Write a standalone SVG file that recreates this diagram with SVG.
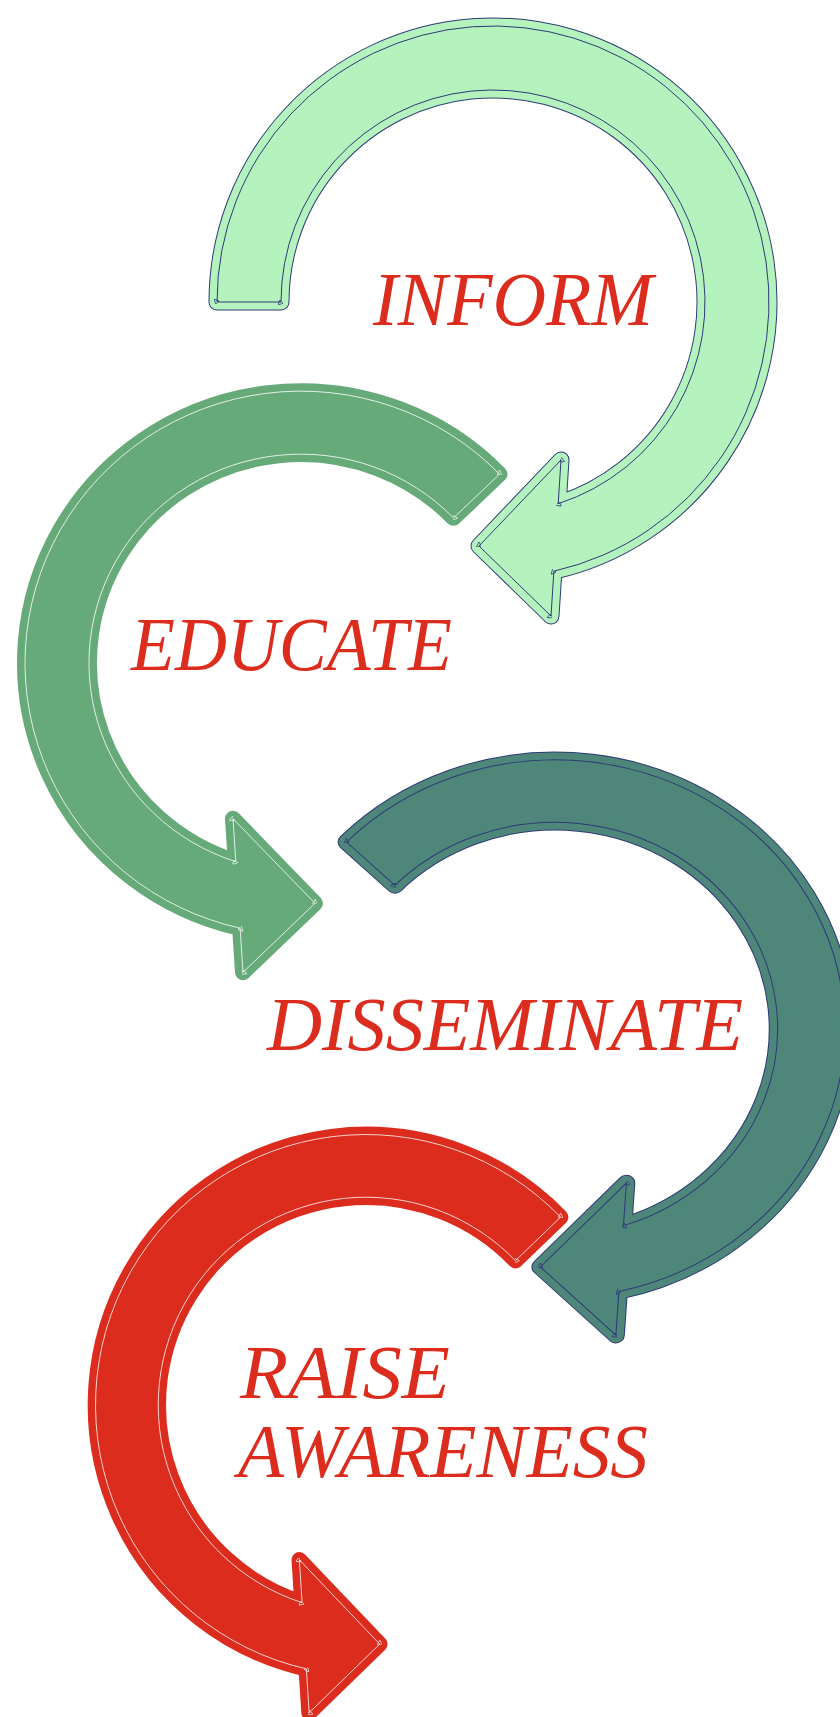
<svg xmlns="http://www.w3.org/2000/svg" xmlns:xlink="http://www.w3.org/1999/xlink" width="840" height="1717" viewBox="0 0 840 1717">
<style>
.edge-navy{fill:none;stroke:#2E3B78;stroke-width:17;stroke-linejoin:round}
.body-inform{fill:#B4F2BE;stroke:#B4F2BE;stroke-width:15;stroke-linejoin:round}
.body-edu{fill:#66AA7A;stroke:#66AA7A;stroke-width:16;stroke-linejoin:round}
.body-diss{fill:#4E877A;stroke:#4E877A;stroke-width:15;stroke-linejoin:round}
.body-raise{fill:#DC2C1E;stroke:#DC2C1E;stroke-width:16;stroke-linejoin:round}
.line-navy{fill:none;stroke:#2E3B78;stroke-width:1;marker-start:url(#mkNavy);marker-mid:url(#mkNavy)}
.line-white{fill:none;stroke:#FFFFFF;stroke-width:1;stroke-opacity:0.8;marker-start:url(#mkWhite);marker-mid:url(#mkWhite)}
.lbl{font-family:"Liberation Serif","DejaVu Serif",serif;font-style:italic;font-size:76px;fill:#DC2C1E}
</style>
<defs>
<marker id="mkNavy" viewBox="0 0 6 6" refX="1" refY="3" markerWidth="5" markerHeight="5" orient="auto" markerUnits="userSpaceOnUse">
<path d="M0,0 L6,3 L0,6 Z" fill="none" stroke="#2E3B78" stroke-width="0.9"/>
</marker>
<marker id="mkWhite" viewBox="0 0 6 6" refX="1" refY="3" markerWidth="5" markerHeight="5" orient="auto" markerUnits="userSpaceOnUse">
<path d="M0,0 L6,3 L0,6 Z" fill="none" stroke="#FFFFFF" stroke-opacity="0.85" stroke-width="0.9"/>
</marker>
<path id="arcLong" d="M -276,0 A 276 276 0 1 1 60.87,269.2 L 58,314 L -14,244 L 68,158 L 65.2,201.7 A 212 212 0 1 0 -212,0 Z"/>
<path id="arcShort" d="M -198.54,-191.73 A 276 276 0 1 1 60.87,269.2 L 58,314 L -14,244 L 68,158 L 65.2,201.7 A 212 212 0 1 0 -152.5,-147.27 Z"/>
</defs>
<g id="connectors"></g>
<g id="node-inform">
<use xlink:href="#arcLong" href="#arcLong" class="edge-navy" transform="translate(493,302)"/>
<use xlink:href="#arcLong" href="#arcLong" class="body-inform" transform="translate(493,302)"/>
<use xlink:href="#arcLong" href="#arcLong" class="line-navy" transform="translate(493,302)"/>
<text class="lbl" x="373" y="325" textLength="280" lengthAdjust="spacingAndGlyphs">INFORM</text>
</g>
<g id="node-educate">
<use xlink:href="#arcShort" href="#arcShort" class="body-edu" transform="translate(301,663) scale(-1,0.985)"/>
<use xlink:href="#arcShort" href="#arcShort" class="line-white" transform="translate(301,663) scale(-1,0.985)"/>
<text class="lbl" x="131" y="670" textLength="321" lengthAdjust="spacingAndGlyphs">EDUCATE</text>
</g>
<g id="node-disseminate">
<use xlink:href="#arcShort" href="#arcShort" class="edge-navy" transform="translate(555,1029) scale(1.05,0.975)"/>
<use xlink:href="#arcShort" href="#arcShort" class="body-diss" transform="translate(555,1029) scale(1.05,0.975)"/>
<use xlink:href="#arcShort" href="#arcShort" class="line-navy" transform="translate(555,1029) scale(1.05,0.975)"/>
<text class="lbl" x="267" y="1050" textLength="476" lengthAdjust="spacingAndGlyphs">DISSEMINATE</text>
</g>
<g id="node-raise-awareness">
<use xlink:href="#arcShort" href="#arcShort" class="body-raise" transform="translate(366,1405) scale(-0.98,0.98)"/>
<use xlink:href="#arcShort" href="#arcShort" class="line-white" transform="translate(366,1405) scale(-0.98,0.98)"/>
<text class="lbl" x="240" y="1398" textLength="210" lengthAdjust="spacingAndGlyphs">RAISE</text>
<text class="lbl" x="238" y="1477" textLength="410" lengthAdjust="spacingAndGlyphs">AWARENESS</text>
</g>
</svg>
